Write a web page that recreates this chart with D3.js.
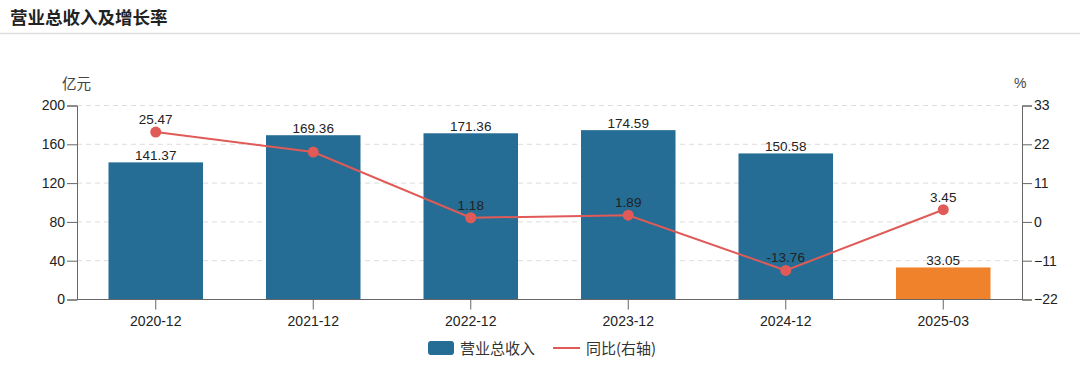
<!DOCTYPE html>
<html><head><meta charset="utf-8">
<script src="https://cdn.jsdelivr.net/npm/d3@7"></script>
<style>
body{margin:0;background:#fff;}
text{font-family:"Liberation Sans",Arial,"Noto Sans CJK SC",sans-serif;}
</style></head>
<body><svg id="c" width="1080" height="386"></svg>
<script>
const categories = ["2020-12","2021-12","2022-12","2023-12","2024-12","2025-03"];
const revenue = [141.37,169.36,171.36,174.59,150.58,33.05];
const growth = [25.47,19.8,1.18,1.89,-13.76,3.45];
const growthLabels = ["25.47","","1.18","1.89","-13.76","3.45"];
const leftTicks = [0,40,80,120,160,200];
const rightTicks = [-22,-11,0,11,22,33];
const barColors = ["#256d94","#256d94","#256d94","#256d94","#256d94","#f0822c"];

const svg = d3.select("#c");
const L=77, R=1022, T=105.5, B=299.5;
const cjk = '"Noto Sans CJK SC","Liberation Sans",sans-serif';

svg.append("text").attr("x",10).attr("y",24).attr("font-size",17.5).attr("font-weight","bold")
  .attr("fill","#222").style("font-family",cjk).text("营业总收入及增长率");
svg.append("line").attr("x1",0).attr("x2",1080).attr("y1",33.5).attr("y2",33.5).attr("stroke","#ddd").attr("stroke-width",1.5);

const x = d3.scaleBand().domain(categories).range([L,R]).paddingInner(0.4).paddingOuter(0.2);
const yL = d3.scaleLinear().domain([0,200]).range([B,T]);
const yR = d3.scaleLinear().domain([-22,33]).range([B,T]);

// grid
svg.append("g").selectAll("line").data(leftTicks.filter(d=>d>0)).join("line")
  .attr("x1",L).attr("x2",R).attr("y1",d=>yL(d)).attr("y2",d=>yL(d))
  .attr("stroke","#dcdcdc").attr("stroke-dasharray","5,4");

// bars
svg.append("g").selectAll("rect").data(revenue).join("rect")
  .attr("x",(d,i)=>x(categories[i])).attr("width",x.bandwidth())
  .attr("y",d=>yL(d)).attr("height",d=>B-yL(d)).attr("fill",(d,i)=>barColors[i]);
svg.append("g").selectAll("text").data(revenue).join("text")
  .attr("x",(d,i)=>x(categories[i])+x.bandwidth()/2).attr("y",d=>yL(d)-2)
  .attr("text-anchor","middle").attr("font-size",13.5).attr("fill","#222").text(d=>d.toFixed(2));

// axes
const axL = svg.append("g").attr("transform",`translate(${L},0)`).call(d3.axisLeft(yL).tickValues(leftTicks).tickSize(10).tickPadding(2));
const axR = svg.append("g").attr("transform",`translate(${R},0)`).call(d3.axisRight(yR).tickValues(rightTicks).tickSize(10).tickPadding(2));
const axB = svg.append("g").attr("transform",`translate(0,${B})`).call(d3.axisBottom(x).tickSize(10).tickPadding(7).tickSizeOuter(0));
[axL,axR,axB].forEach(a=>{
  a.select(".domain").attr("stroke","#666");
  a.selectAll(".tick line").attr("stroke","#666");
  a.selectAll(".tick text").attr("fill","#222").attr("font-size",14).style("font-family",'"Liberation Sans",Arial,sans-serif');
});
axB.select(".domain").attr("d",`M${L},0H${R}`);

svg.append("text").attr("x",62).attr("y",89).attr("font-size",14.5).attr("fill","#444").style("font-family",cjk).text("亿元");
svg.append("text").attr("x",1014).attr("y",88).attr("font-size",14).attr("fill","#444").text("%");

// line
const cx = i=>x(categories[i])+x.bandwidth()/2;
const line = d3.line().x((d,i)=>cx(i)).y(d=>yR(d));
svg.append("path").datum(growth).attr("d",line).attr("fill","none").attr("stroke","#e05a57").attr("stroke-width",2);
svg.append("g").selectAll("circle").data(growth).join("circle")
  .attr("cx",(d,i)=>cx(i)).attr("cy",d=>yR(d)).attr("r",5.5).attr("fill","#e05a57");
svg.append("g").selectAll("text").data(growthLabels).join("text")
  .attr("x",(d,i)=>cx(i)).attr("y",(d,i)=>yR(growth[i])-8)
  .attr("text-anchor","middle").attr("font-size",13.5).attr("fill","#222").text(d=>d);

// legend
const lg = svg.append("g");
lg.append("rect").attr("x",428).attr("y",341).attr("width",26).attr("height",14).attr("rx",3).attr("fill","#256d94");
lg.append("text").attr("x",460).attr("y",353.5).attr("font-size",15).attr("fill","#333").style("font-family",cjk).text("营业总收入");
lg.append("line").attr("x1",553).attr("x2",580).attr("y1",348).attr("y2",348).attr("stroke","#e05a57").attr("stroke-width",2);
lg.append("text").attr("x",586).attr("y",353.5).attr("font-size",15).attr("fill","#333").style("font-family",cjk).text("同比(右轴)");
</script></body></html>
